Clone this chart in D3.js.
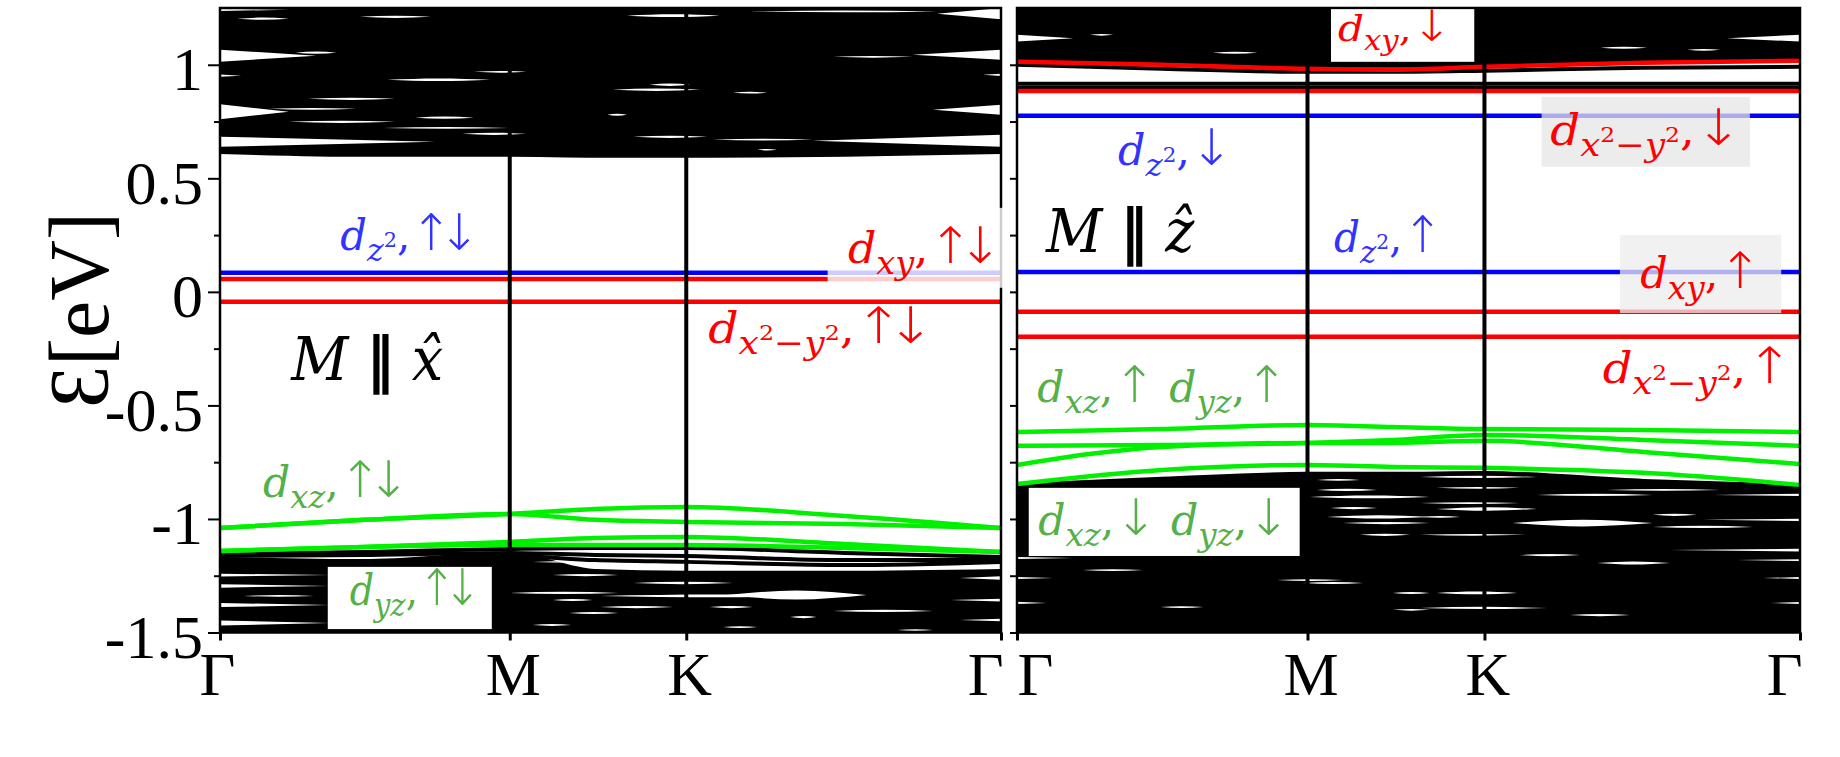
<!DOCTYPE html>
<html><head><meta charset="utf-8">
<script src="https://cdn.jsdelivr.net/npm/d3@7"></script>
<style>body{margin:0;background:#fff}svg{display:block}text{white-space:pre}</style>
</head><body>
<svg id="c" width="1840" height="757"></svg>
<script>
// ---------------- DATA ----------------
const kSamples = [0, 0.185, 0.371, 0.48, 0.597, 0.8, 1];   // path fraction along Γ-M-K-Γ
const kFlat = [0, 1];
const kPoints = [0, 0.371, 0.597, 1];
const kLabels = ["Γ", "M", "K", "Γ"];
const eTicks = [1, 0.5, 0, -0.5, -1, -1.5];
const eTickLabels = ["1", "0.5", "0", "-0.5", "-1", "-1.5"];
const eMinorTicks = [0.75, 0.25, -0.25, -0.75, -1.25];

// Panel A : M ∥ x̂
const xDz2 = [0.084, 0.084];
const xDxy = [0.057, 0.057];
const xDx2y2 = [-0.044, -0.044];
const xDxzDyz = [
  [-1.040, -1.004, -0.978, -0.956, -0.947, -0.987, -1.040],
  [-1.040, -1.004, -0.978, -1.004, -1.013, -1.022, -1.040],
  [-1.141, -1.123, -1.101, -1.084, -1.079, -1.110, -1.145],
  [-1.141, -1.123, -1.115, -1.115, -1.115, -1.128, -1.145]
];
const xCoreLines = [
  [-1.154, -1.145, -1.132, -1.128, -1.128, -1.150, -1.167],
  [-1.163, -1.159, -1.150, -1.159, -1.163, -1.181, -1.181],
  [-1.189, -1.207, -1.163, -1.181, -1.189, -1.203, -1.189]
];
const xConductionEdge = [0.612, 0.599, 0.599, 0.595, 0.595, 0.599, 0.612];
const xValenceEdge = [-1.172, -1.181, -1.150, -1.225, -1.233, -1.233, -1.225];
// gaps: [k start, k end, energy, width eV, kind(0 lens,1 open at start,2 open at end)]
const xConductionGaps = [
  [0, 0.088, 1.242, 0.010, 1], [0.022, 0.088, 1.203, 0.010, 0], [0.179, 0.270, 1.211, 0.010, 0],
  [0, 0.123, 1.040, 0.053, 1], [0.097, 0.149, 1.053, 0.010, 0], [0.325, 0.392, 0.969, 0.008, 0],
  [0, 0.027, 0.952, 0.010, 1], [0.214, 0.346, 0.934, 0.012, 0], [0.113, 0.224, 0.850, 0.010, 0],
  [0, 0.088, 0.793, 0.066, 1], [0.063, 0.174, 0.806, 0.008, 0], [0.250, 0.325, 0.767, 0.010, 0],
  [0.088, 0.224, 0.749, 0.010, 0], [0, 0.275, 0.661, 0.044, 1], [0.209, 0.370, 0.722, 0.008, 0],
  [0.310, 0.392, 0.696, 0.010, 0], [0.521, 0.640, 1.216, 0.012, 0], [0.918, 1, 1.225, 0.050, 2],
  [0.679, 0.918, 1.235, 0.008, 0], [0.887, 1, 1.044, 0.044, 2], [0.785, 0.887, 1.035, 0.008, 0],
  [0.977, 1, 0.956, 0.010, 2], [0.503, 0.615, 0.890, 0.010, 0], [0.550, 0.602, 0.912, 0.010, 0],
  [0.657, 0.700, 0.877, 0.008, 0], [0.913, 1, 0.802, 0.044, 2], [0.496, 0.521, 0.780, 0.008, 0],
  [0.759, 1, 0.665, 0.053, 2], [0.529, 0.624, 0.683, 0.010, 0], [0.631, 0.759, 0.670, 0.008, 0],
  [0.688, 0.713, 0.626, 0.006, 0]
];
const xValenceGaps = [
  [0, 0.14, -1.247, 0.012, 1], [0, 0.14, -1.295, 0.015, 1], [0.03, 0.12, -1.339, 0.008, 0],
  [0, 0.14, -1.379, 0.018, 1], [0, 0.14, -1.458, 0.022, 1],
  [0.376, 0.426, -1.159, 0.008, 0], [0.40, 0.51, -1.189, 0.008, 0], [0.426, 0.51, -1.247, 0.010, 0],
  [0.37, 0.51, -1.326, 0.010, 0], [0.426, 0.477, -1.357, 0.008, 0], [0.447, 0.51, -1.414, 0.008, 0],
  [0.40, 0.45, -1.467, 0.008, 0], [0.529, 0.657, -1.282, 0.010, 0], [0.487, 0.785, -1.339, 0.012, 0],
  [0.649, 0.828, -1.335, 0.040, 0], [0.627, 0.682, -1.388, 0.010, 0], [0.730, 0.764, -1.432, 0.010, 0],
  [0.785, 0.913, -1.405, 0.010, 0], [0.644, 0.688, -1.476, 0.008, 0], [0.867, 0.913, -1.489, 0.006, 0],
  [0.947, 1, -1.260, 0.015, 2], [0.935, 1, -1.357, 0.012, 2], [0.947, 1, -1.445, 0.012, 2],
  [0.487, 0.580, -1.388, 0.010, 0]
];

// Panel B : M ∥ ẑ
const zDz2Up = [0.088, 0.088];
const zDz2Dn = [0.775, 0.775];
const zDxyUp = [-0.088, -0.088];
const zDx2y2Up = [-0.198, -0.198];
const zDx2y2Dn = [0.885, 0.885];
const zDxyDn = [1.013, 1.000, 0.982, 0.978, 0.991, 1.009, 1.018];
const zDxzDyz = [
  [-0.617, -0.604, -0.586, -0.595, -0.604, -0.608, -0.617],
  [-0.678, -0.674, -0.665, -0.652, -0.630, -0.652, -0.678],
  [-0.762, -0.683, -0.665, -0.665, -0.656, -0.705, -0.758],
  [-0.846, -0.784, -0.762, -0.771, -0.775, -0.797, -0.850]
];
const zCoreLines = [[1.000, 0.982, 0.969, 0.969, 0.974, 0.987, 0.991]];
const zCoreFlat = [[0.916, 0.916], [0.899, 0.899]];
const zConductionEdge = [1.022, 1.004, 0.991, 0.991, 1.000, 1.013, 1.022];
const zValenceEdge = [-0.846, -0.819, -0.797, -0.797, -0.793, -0.828, -0.850];
const zConductionGaps = [
  [0, 0.072, 1.117, 0.030, 1], [0.093, 0.123, 1.132, 0.008, 0], [0.250, 0.307, 1.053, 0.008, 0],
  [0.745, 0.805, 1.075, 0.008, 0], [0.856, 0.898, 1.066, 0.008, 0], [0.907, 1, 1.117, 0.030, 2]
];
const zValenceGaps = [
  [0.383, 0.438, -0.828, 0.008, 0], [0.383, 0.460, -0.872, 0.010, 0], [0.374, 0.527, -0.903, 0.012, 0],
  [0.400, 0.460, -0.952, 0.010, 0], [0.396, 0.527, -0.991, 0.014, 0], [0.416, 0.527, -1.018, 0.010, 0],
  [0.438, 0.502, -1.070, 0.010, 0], [0, 0.072, -1.172, 0.008, 1], [0.084, 0.161, -1.225, 0.008, 0],
  [0, 0.046, -1.260, 0.008, 1], [0, 0.038, -1.370, 0.010, 1], [0.183, 0.238, -1.388, 0.008, 0],
  [0.332, 0.416, -1.269, 0.008, 0], [0.365, 0.442, -1.282, 0.008, 0], [0.480, 0.527, -1.326, 0.008, 0],
  [0.480, 0.527, -1.400, 0.008, 0], [0.515, 0.664, -0.815, 0.010, 0], [0.536, 0.642, -0.863, 0.008, 0],
  [0.664, 0.812, -0.894, 0.010, 0], [0.753, 0.898, -0.872, 0.008, 0], [0.889, 1, -0.894, 0.010, 2],
  [0.515, 0.642, -0.930, 0.008, 0], [0.536, 0.664, -0.956, 0.016, 0], [0.812, 0.868, -0.982, 0.010, 0],
  [0.633, 0.812, -1.018, 0.030, 0], [0.515, 0.566, -0.991, 0.008, 0], [0.812, 0.940, -1.035, 0.010, 0],
  [0.515, 0.651, -1.070, 0.008, 0], [0.876, 1, -1.004, 0.010, 2], [0.834, 1, -1.137, 0.012, 2],
  [0.642, 0.719, -1.159, 0.010, 0], [0.741, 0.834, -1.194, 0.014, 0], [0.920, 1, -1.181, 0.008, 2],
  [0.953, 1, -1.260, 0.008, 2], [0.536, 0.639, -1.326, 0.012, 0], [0.515, 0.677, -1.392, 0.010, 0],
  [0.706, 0.783, -1.423, 0.010, 0], [0.962, 1, -1.370, 0.008, 2]
];

// ---------------- STYLE / LAYOUT ----------------
const C = {blue: "#0000ff", red: "#ff0000", green: "#00f000", tBlue: "#3333ff", tRed: "#ff0000", tGreen: "#55b047"};
const E_MIN = -1.5, E_MAX = 1.25;
const svg = d3.select("#c");
const y = d3.scaleLinear().domain([E_MIN, E_MAX]).range([632.5, 8]);

const panels = [
  {x0: 220, x1: 1001, labels: true,
   condEdge: xConductionEdge, valEdge: xValenceEdge, condGaps: xConductionGaps, valGaps: xValenceGaps,
   black: xCoreLines.map(e => [kSamples, e]),
   colored: [[kFlat, xDz2, C.blue], [kFlat, xDxy, C.red], [kFlat, xDx2y2, C.red]]
     .concat(xDxzDyz.map(e => [kSamples, e, C.green])),
   boxes: [
     {k0: 0.138, k1: 0.348, e0: -1.211, e1: -1.485, fill: "#fff", op: 1},
     {k0: 0.778, k1: 1.003, e0: 0.370, e1: 0.018, fill: "#fff", op: 0.8}
   ],
   texts: [
     {k0: 0.154, k1: 0.320, e: 0.185, col: C.tBlue, parts: [["d","i"],["z","s"],["2","S"],[",","u"],["↑↓","a"]]},
     {k0: 0.804, k1: 0.988, e: 0.128, col: C.tRed, parts: [["d","i"],["xy","s"],[",","u"],["↑↓","a"]]},
     {k0: 0.625, k1: 0.900, e: -0.225, col: C.tRed, parts: [["d","i"],["x","s"],["2","S"],["−","so"],["y","s"],["2","S"],[",","u"],["↑↓","a"]]},
     {k0: 0.090, k1: 0.286, e: -0.388, col: "#000", size: 60, parts: [["M","i"],[" ","u"],["‖","b"],[" ","u"],["x̂","i"]]},
     {k0: 0.055, k1: 0.230, e: -0.903, col: C.tGreen, parts: [["d","i"],["xz","s"],[",","u"],["↑↓","a"]]},
     {k0: 0.166, k1: 0.323, e: -1.379, col: C.tGreen, parts: [["d","i"],["yz","s"],[",","u"],["↑↓","a"]]}
   ]},
  {x0: 1017, x1: 1800, labels: false,
   condEdge: zConductionEdge, valEdge: zValenceEdge, condGaps: zConductionGaps, valGaps: zValenceGaps,
   black: zCoreLines.map(e => [kSamples, e]).concat(zCoreFlat.map(e => [kFlat, e])),
   colored: [[kFlat, zDz2Up, C.blue], [kFlat, zDz2Dn, C.blue], [kFlat, zDxyUp, C.red], [kFlat, zDx2y2Up, C.red],
             [kFlat, zDx2y2Dn, C.red], [kSamples, zDxyDn, C.red]]
     .concat(zDxzDyz.map(e => [kSamples, e, C.green])),
   boxes: [
     {k0: 0.401, k1: 0.584, e0: 1.245, e1: 1.013, fill: "#fff", op: 1},
     {k0: 0.670, k1: 0.936, e0: 0.859, e1: 0.551, fill: "#e6e6e6", op: 0.75},
     {k0: 0.770, k1: 0.976, e0: 0.251, e1: -0.093, fill: "#ececec", op: 0.75},
     {k0: 0.015, k1: 0.361, e0: -0.863, e1: -1.163, fill: "#fff", op: 1}
   ],
   texts: [
     {k0: 0.410, k1: 0.556, e: 1.105, col: C.tRed, size: 36, parts: [["d","i"],["xy","s"],[",","u"],["↓","a"]]},
     {k0: 0.129, k1: 0.276, e: 0.559, col: C.tBlue, parts: [["d","i"],["z","s"],["2","S"],[",","u"],["↓","a"]]},
     {k0: 0.036, k1: 0.227, e: 0.176, col: "#000", size: 60, parts: [["M","i"],[" ","u"],["‖","b"],[" ","u"],["ẑ","i"]]},
     {k0: 0.405, k1: 0.544, e: 0.176, col: C.tBlue, parts: [["d","i"],["z","s"],["2","S"],[",","u"],["↑","a"]]},
     {k0: 0.681, k1: 0.926, e: 0.648, col: C.tRed, parts: [["d","i"],["x","s"],["2","S"],["−","so"],["y","s"],["2","S"],[",","u"],["↓","a"]]},
     {k0: 0.796, k1: 0.951, e: 0.018, col: C.tRed, parts: [["d","i"],["xy","s"],[",","u"],["↑","a"]]},
     {k0: 0.748, k1: 0.991, e: -0.401, col: C.tRed, parts: [["d","i"],["x","s"],["2","S"],["−","so"],["y","s"],["2","S"],[",","u"],["↑","a"]]},
     {k0: 0.026, k1: 0.346, e: -0.485, col: C.tGreen, parts: [["d","i"],["xz","s"],[",","u"],["↑","a"],[" ","u"],["d","i"],["yz","s"],[",","u"],["↑","a"]]},
     {k0: 0.027, k1: 0.349, e: -1.070, col: C.tGreen, parts: [["d","i"],["xz","s"],[",","u"],["↓","a"],[" ","u"],["d","i"],["yz","s"],[",","u"],["↓","a"]]}
   ]}
];

// ---------------- DRAW ----------------
function gapRows(gp) {
  const [k0, k1, e, w, t] = gp;
  if (t === 0) return [[k0, e, e], [(k0 + k1) / 2, e - w / 2, e + w / 2], [k1, e, e]];
  if (t === 1) return [[k0, e - w / 2, e + w / 2], [k1, e, e]];
  return [[k0, e, e], [k1, e - w / 2, e + w / 2]];
}

function addLabel(parent, spec, x) {
  const base = spec.size || 42;
  const sz = {i: 1, u: 1, b: 1, a: 1.2, s: 0.76, so: 0.76, S: 0.5};
  const off = {i: 0, u: 0, b: 0, a: 0, s: 0.26, so: 0.26, S: -0.06};
  const t = parent.append("text").attr("fill", spec.col).attr("font-family", "DejaVu Serif")
    .attr("xml:space", "preserve");
  let cur = 0;
  spec.parts.forEach(([txt, st]) => {
    const o = off[st] * base;
    const ts = t.append("tspan").text(txt).attr("dy", o - cur).attr("font-size", sz[st] * base)
      .attr("font-style", (st === "i" || st === "s") ? "italic" : "normal");
    if (st === "a") {
      ts.attr("font-family", "DejaVu Sans").attr("font-weight", 300);
      if (txt.length > 1) ts.attr("letter-spacing", "-0.28em");
    }
    if (st === "b") ts.attr("font-family", "DejaVu Sans").attr("font-weight", "bold");
    cur = o;
  });
  const bb = t.node().getBBox();
  const x0 = x(spec.k0), x1 = x(spec.k1);
  const sx = (x1 - x0) / bb.width;
  t.attr("transform", `translate(${x0 - bb.x * sx},${y(spec.e)}) scale(${sx},1)`);
}

panels.forEach((p, idx) => {
  const x = d3.scaleLinear().domain([0, 1]).range([p.x0, p.x1]);
  const clipId = "clip" + idx;
  svg.append("clipPath").attr("id", clipId).append("rect")
    .attr("x", p.x0).attr("y", y(E_MAX)).attr("width", p.x1 - p.x0).attr("height", y(E_MIN) - y(E_MAX));
  const g = svg.append("g").attr("clip-path", `url(#${clipId})`);

  const area = d3.area().x(d => x(d[0])).y0(d => y(d[1])).y1(d => y(d[2])).curve(d3.curveMonotoneX);
  const areaLin = d3.area().x(d => x(d[0])).y0(d => y(d[1])).y1(d => y(d[2])).curve(d3.curveLinear);
  const line = d3.line().x(d => x(d[0])).y(d => y(d[1])).curve(d3.curveMonotoneX);

  // dense band manifolds
  g.append("path").datum(kSamples.map((k, i) => [k, p.condEdge[i], E_MAX + 0.05]))
    .attr("d", area).attr("fill", "#000").attr("stroke", "#000").attr("stroke-width", 2);
  g.append("path").datum(kSamples.map((k, i) => [k, E_MIN - 0.05, p.valEdge[i]]))
    .attr("d", area).attr("fill", "#000").attr("stroke", "#000").attr("stroke-width", 2);
  // gaps between bands
  p.condGaps.concat(p.valGaps).forEach(gp => {
    g.append("path").datum(gapRows(gp)).attr("d", gp[4] === 0 ? area : areaLin).attr("fill", "#fff");
  });
  // individual black bands
  p.black.forEach(([ks, es]) => {
    g.append("path").datum(ks.map((k, i) => [k, es[i]])).attr("d", line)
      .attr("fill", "none").attr("stroke", "#000").attr("stroke-width", 4);
  });
  // orbital-projected bands
  p.colored.forEach(([ks, es, col]) => {
    g.append("path").datum(ks.map((k, i) => [k, es[i]])).attr("d", line)
      .attr("fill", "none").attr("stroke", col).attr("stroke-width", 4.5);
  });
  // high symmetry verticals
  kPoints.slice(1, 3).forEach(k => {
    g.append("path").datum([[k, E_MIN], [k, E_MAX]]).attr("d", d3.line().x(d => x(d[0])).y(d => y(d[1])))
      .attr("stroke", "#000").attr("stroke-width", 4);
  });

  // frame
  svg.append("rect").attr("x", p.x0).attr("y", y(E_MAX)).attr("width", p.x1 - p.x0)
    .attr("height", y(E_MIN) - y(E_MAX)).attr("fill", "none").attr("stroke", "#000").attr("stroke-width", 2.5);

  // y axis
  const ax = svg.append("g").attr("transform", `translate(${p.x0},0)`);
  if (p.labels) {
    ax.call(d3.axisLeft(y).tickValues(eTicks).tickSize(12).tickSizeOuter(0).tickPadding(5)
      .tickFormat((d, i) => eTickLabels[i]));
    ax.append("g").call(d3.axisLeft(y).tickValues(eMinorTicks).tickSize(6).tickSizeOuter(0).tickFormat(""));
  } else {
    ax.call(d3.axisLeft(y).tickValues(eTicks.concat(eMinorTicks)).tickSize(7).tickSizeOuter(0).tickFormat(""));
  }
  ax.selectAll(".domain").remove();
  ax.selectAll("line").attr("stroke", "#000").attr("stroke-width", 2);
  ax.selectAll("text").attr("font-family", "Liberation Serif").attr("font-size", 62).attr("fill", "#000").attr("dy", "0.4em");

  // x axis
  const bx = svg.append("g").attr("transform", `translate(0,${y(E_MIN)})`);
  bx.call(d3.axisBottom(x).tickValues(kPoints).tickSize(8).tickSizeOuter(0).tickPadding(10)
    .tickFormat((d, i) => kLabels[i]));
  bx.selectAll(".domain").remove();
  bx.selectAll("line").attr("stroke", "#000").attr("stroke-width", 3);
  bx.selectAll("text").attr("font-family", "Liberation Serif").attr("font-size", 62).attr("fill", "#000")
    .attr("text-anchor", (d, i) => i === 3 ? "end" : (i === 0 && !p.labels ? "start" : "middle"))
    .attr("dx", (d, i) => i === 3 ? 2 : (i === 0 && p.labels ? -3 : (i === 0 ? 0 : 3)));

  // label boxes
  p.boxes.forEach(b => {
    svg.append("rect").attr("x", x(b.k0)).attr("y", y(b.e0)).attr("width", x(b.k1) - x(b.k0))
      .attr("height", y(b.e1) - y(b.e0)).attr("fill", b.fill).attr("fill-opacity", b.op);
  });
  // labels
  const lg = svg.append("g");
  p.texts.forEach(t => addLabel(lg, t, x));
});

// y-axis title
const yt = svg.append("text").attr("transform", "translate(108,212) rotate(-90)").attr("text-anchor", "end")
  .attr("font-family", "Liberation Serif").attr("fill", "#000");
yt.append("tspan").attr("font-size", 84).text("Ɛ");
yt.append("tspan").attr("font-size", 84).text("[eV]");
</script>
</body></html>
